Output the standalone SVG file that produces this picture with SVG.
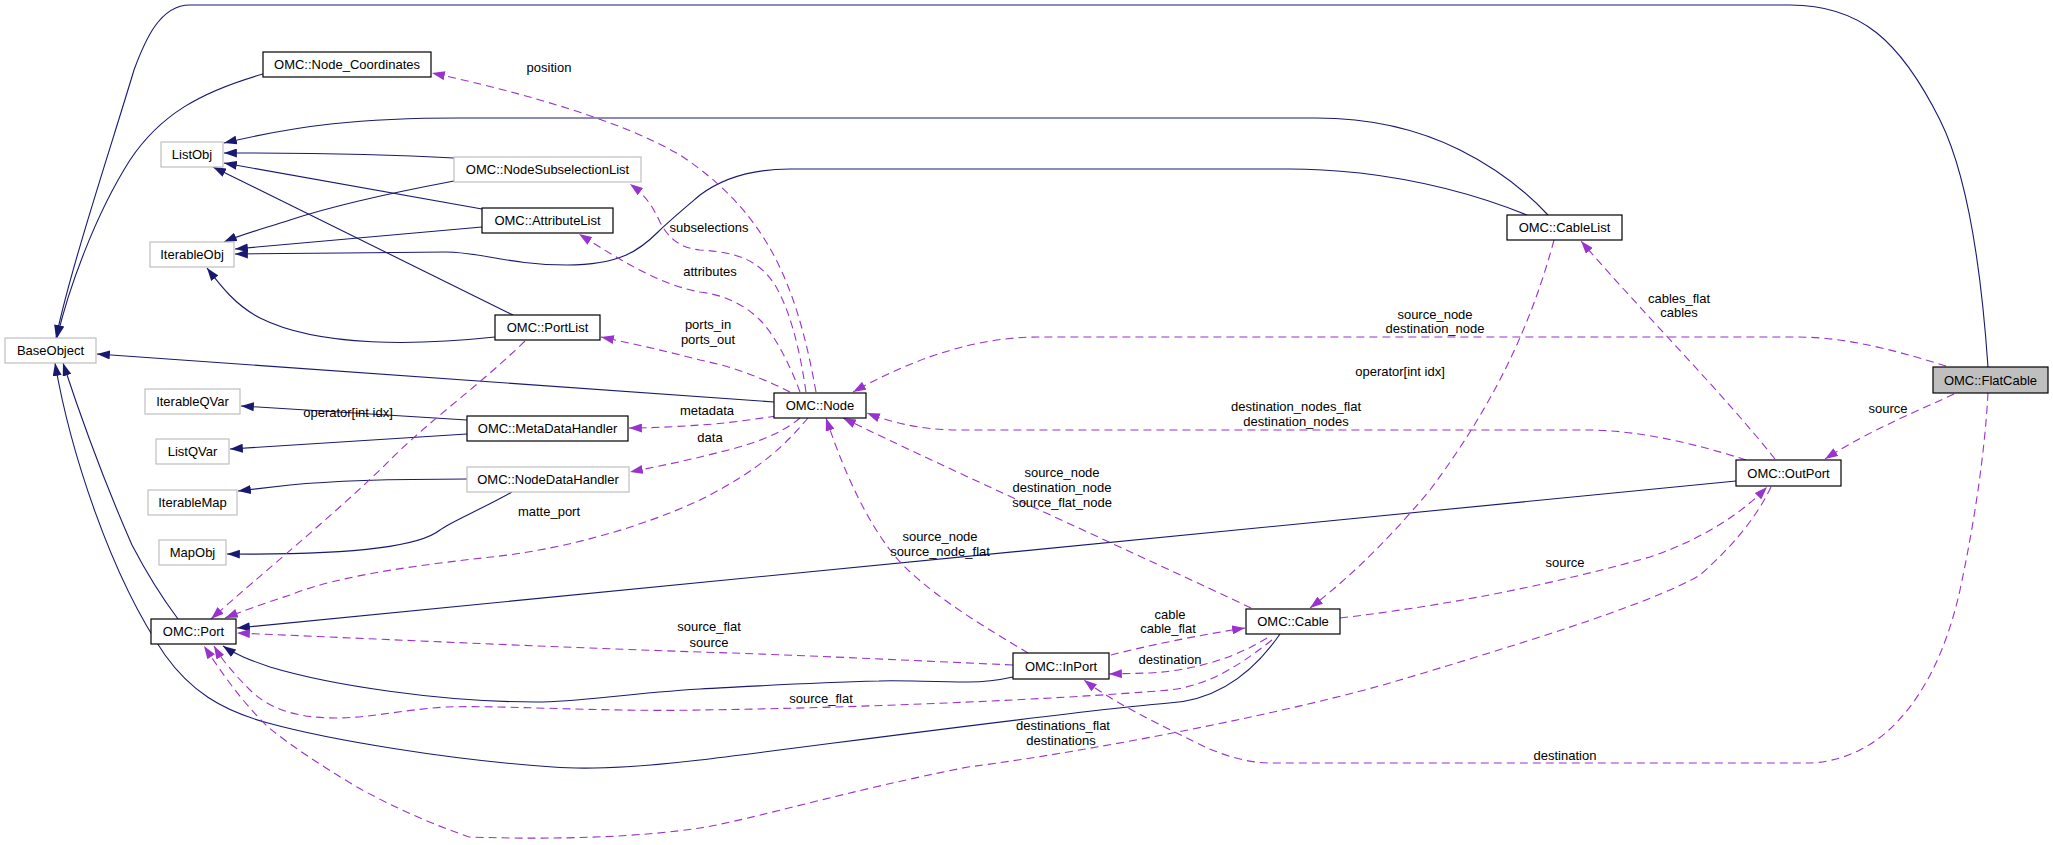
<svg xmlns="http://www.w3.org/2000/svg" width="2053" height="845" viewBox="0 0 2053 845">
<style>
.bg{fill:#fff}
.n rect{fill:#fff;stroke:#000;stroke-width:1.2}
.n.u rect{stroke:#bfbfbf}
.n.h rect{fill:#bfbfbf}
text{font-family:"Liberation Sans",Arial,sans-serif;font-size:13px;fill:#000}
.n text{text-anchor:middle}
.lb{text-anchor:middle}
.inh{fill:none;stroke:#191970;stroke-width:1.1;marker-end:url(#an)}
.use{fill:none;stroke:#9a32cd;stroke-width:1.1;stroke-dasharray:8,5;marker-end:url(#ap)}
</style>
<defs>
<marker id="an" viewBox="0 0 10 7" refX="10" refY="3.5" markerWidth="13" markerHeight="9" markerUnits="userSpaceOnUse" orient="auto"><path d="M0,0 L10,3.5 L0,7 z" fill="#191970"/></marker>
<marker id="ap" viewBox="0 0 10 7" refX="10" refY="3.5" markerWidth="13" markerHeight="9" markerUnits="userSpaceOnUse" orient="auto"><path d="M0,0 L10,3.5 L0,7 z" fill="#9a32cd"/></marker>
</defs>
<rect class="bg" x="0" y="0" width="2053" height="845"/>
<g id="connectors">
<path class="inh" d="M1988,367 C1982,280 1970,180 1940,120 C1900,40 1860,5 1790,5 L190,5 C160,5 145,40 134,70 C110,150 70,270 56,338"/>
<path class="inh" d="M263,74 C200,92 160,115 130,160 C95,215 68,290 57,338"/>
<path class="inh" d="M1548,215 C1520,185 1490,165 1460,150 C1420,130 1370,118 1316,118 L460,118 C360,118 300,125 224,143"/>
<path class="inh" d="M1527,215 C1480,196 1420,180 1360,173 C1330,170 1310,169 1290,169 L790,169 C750,169 720,180 700,195 C680,212 668,222 658,232 C640,250 620,265 567,265 C510,265 480,252 446,252 C380,252 300,254 235,254"/>
<path class="inh" d="M454,158 C400,155 300,153 224,153"/>
<path class="inh" d="M454,181 C380,195 320,210 290,220 C262,229 240,235 224,242"/>
<path class="inh" d="M482,209 L224,163"/>
<path class="inh" d="M482,227 L235,249"/>
<path class="inh" d="M513,315 L213,167"/>
<path class="inh" d="M495,337 C420,345 320,348 260,318 C235,305 220,285 207,268"/>
<path class="inh" d="M774,402 L97,354"/>
<path class="inh" d="M467,420 L241,406"/>
<path class="inh" d="M467,434 L230,449"/>
<path class="inh" d="M467,479 C400,479 330,481 290,485 L238,491"/>
<path class="inh" d="M512,492 C480,510 450,522 440,530 C415,550 330,555 227,554"/>
<path class="inh" d="M178,619 C160,595 145,570 132,545 C110,495 85,430 63,363"/>
<path class="inh" d="M1280,634 C1255,670 1220,700 1169,703 C1080,710 800,748 700,760 C640,767 590,770 553,767 C450,760 330,740 268,723 C220,710 190,690 165,655 C110,575 70,450 55,363"/>
<path class="inh" d="M1736,481 L237,628"/>
<path class="inh" d="M1013,677 C995,681 985,682 968,682 C930,682 900,680 879,681 C800,683 740,687 700,689 C620,694 580,702 536,702 C440,702 330,685 270,667 C250,660 236,655 223,646"/>
<path class="use" d="M816,392 C805,330 790,280 765,240 C740,200 710,175 680,155 C620,120 520,92 432,73"/>
<path class="use" d="M806,392 C800,350 790,310 775,285 C760,262 740,252 700,250 C680,248 668,238 660,222 C652,205 645,195 630,184"/>
<path class="use" d="M800,392 C790,365 775,335 760,320 C745,305 725,295 700,292 C660,285 620,260 579,234"/>
<path class="use" d="M790,392 C770,382 740,368 700,360 C670,352 630,343 601,337"/>
<path class="use" d="M776,416 C750,420 720,424 700,425 C670,427 650,428 629,428"/>
<path class="use" d="M800,418 C780,435 750,445 720,452 C690,460 660,466 630,472"/>
<path class="use" d="M808,418 C785,445 760,470 700,500 C640,528 560,550 491,557 C420,565 340,575 290,595 C265,603 240,612 225,618"/>
<path class="use" d="M525,341 C480,385 430,420 390,460 C340,510 260,575 211,619"/>
<path class="use" d="M1554,240 C1530,330 1490,410 1430,490 C1380,550 1340,585 1310,608"/>
<path class="use" d="M1775,459 C1720,390 1640,310 1581,241"/>
<path class="use" d="M1946,366 C1900,352 1850,337 1796,337 L1039,337 C980,337 920,355 853,392"/>
<path class="use" d="M1746,460 C1700,445 1640,430 1587,430 L960,430 C920,430 890,422 867,413"/>
<path class="use" d="M1251,608 C1150,560 950,470 843,418"/>
<path class="use" d="M1028,653 C990,630 920,590 890,550 C860,510 840,460 826,418"/>
<path class="use" d="M1013,665 C900,660 800,655 700,652 C550,647 400,640 237,633"/>
<path class="use" d="M1111,655 C1150,645 1200,635 1245,628"/>
<path class="use" d="M1267,638 C1240,655 1200,670 1150,673 L1109,674"/>
<path class="use" d="M1272,640 C1240,665 1210,685 1170,690 C1050,700 850,708 700,710 C600,712 500,705 446,707 C400,710 370,718 335,718 C300,718 270,710 250,690 C235,675 222,660 214,646"/>
<path class="use" d="M1340,618 C1450,605 1550,585 1650,557 C1700,540 1740,515 1767,487"/>
<path class="use" d="M1954,394 C1920,410 1870,430 1825,459"/>
<path class="use" d="M1771,487 C1760,510 1740,540 1700,575 C1650,605 1500,650 1400,680 C1300,710 1100,750 968,767 C850,790 750,820 700,828 C640,837 560,840 469,837 C420,820 380,800 357,787 C320,765 290,745 268,727 C240,700 220,670 204,646"/>
<path class="use" d="M1988,393 C1985,450 1975,520 1960,590 C1940,680 1900,730 1860,750 C1840,760 1820,763 1808,763 L1271,763 C1240,763 1210,750 1191,740 C1150,720 1110,700 1084,680"/>
<text class="lb" x="549" y="72">position</text>
<text class="lb" x="709" y="232">subselections</text>
<text class="lb" x="710" y="276">attributes</text>
<text class="lb" x="708" y="329">ports_in</text>
<text class="lb" x="708" y="344">ports_out</text>
<text class="lb" x="707" y="415">metadata</text>
<text class="lb" x="710" y="442">data</text>
<text class="lb" x="549" y="516">matte_port</text>
<text class="lb" x="348" y="417">operator[int idx]</text>
<text class="lb" x="1400" y="376">operator[int idx]</text>
<text class="lb" x="1679" y="303">cables_flat</text>
<text class="lb" x="1679" y="317">cables</text>
<text class="lb" x="1435" y="319">source_node</text>
<text class="lb" x="1435" y="333">destination_node</text>
<text class="lb" x="1296" y="411">destination_nodes_flat</text>
<text class="lb" x="1296" y="426">destination_nodes</text>
<text class="lb" x="1062" y="477">source_node</text>
<text class="lb" x="1062" y="492">destination_node</text>
<text class="lb" x="1062" y="507">source_flat_node</text>
<text class="lb" x="940" y="541">source_node</text>
<text class="lb" x="940" y="556">source_node_flat</text>
<text class="lb" x="709" y="631">source_flat</text>
<text class="lb" x="709" y="647">source</text>
<text class="lb" x="1170" y="619">cable</text>
<text class="lb" x="1168" y="633">cable_flat</text>
<text class="lb" x="1170" y="664">destination</text>
<text class="lb" x="821" y="703">source_flat</text>
<text class="lb" x="1565" y="567">source</text>
<text class="lb" x="1888" y="413">source</text>
<text class="lb" x="1063" y="730">destinations_flat</text>
<text class="lb" x="1061" y="745">destinations</text>
<text class="lb" x="1565" y="760">destination</text>
</g>
<g id="BaseObject" class="n u"><rect x="5" y="338" width="91" height="25"/><text x="50.5" y="355">BaseObject</text></g>
<g id="Node_Coordinates" class="n"><rect x="263" y="52" width="168" height="25"/><text x="347" y="69">OMC::Node_Coordinates</text></g>
<g id="ListObj" class="n u"><rect x="161" y="142" width="62" height="25"/><text x="192" y="159">ListObj</text></g>
<g id="NodeSubselectionList" class="n u"><rect x="454" y="157" width="187" height="25"/><text x="547.5" y="174">OMC::NodeSubselectionList</text></g>
<g id="AttributeList" class="n"><rect x="482" y="208" width="131" height="25"/><text x="547.5" y="225">OMC::AttributeList</text></g>
<g id="IterableObj" class="n u"><rect x="150" y="242" width="84" height="25"/><text x="192" y="259">IterableObj</text></g>
<g id="PortList" class="n"><rect x="495" y="315" width="105" height="25"/><text x="547.5" y="332">OMC::PortList</text></g>
<g id="IterableQVar" class="n u"><rect x="145" y="389" width="95" height="25"/><text x="192.5" y="406">IterableQVar</text></g>
<g id="MetaDataHandler" class="n"><rect x="467" y="416" width="161" height="25"/><text x="547.5" y="433">OMC::MetaDataHandler</text></g>
<g id="ListQVar" class="n u"><rect x="156" y="439" width="73" height="25"/><text x="192.5" y="456">ListQVar</text></g>
<g id="NodeDataHandler" class="n u"><rect x="467" y="467" width="162" height="25"/><text x="548" y="484">OMC::NodeDataHandler</text></g>
<g id="IterableMap" class="n u"><rect x="148" y="490" width="89" height="25"/><text x="192.5" y="507">IterableMap</text></g>
<g id="MapObj" class="n u"><rect x="159" y="540" width="67" height="25"/><text x="192.5" y="557">MapObj</text></g>
<g id="Port" class="n"><rect x="151" y="619" width="85" height="25"/><text x="193.5" y="636">OMC::Port</text></g>
<g id="Node" class="n"><rect x="774" y="393" width="92" height="25"/><text x="820" y="410">OMC::Node</text></g>
<g id="CableList" class="n"><rect x="1507" y="215" width="115" height="25"/><text x="1564.5" y="232">OMC::CableList</text></g>
<g id="FlatCable" class="n h"><rect x="1933" y="367" width="115" height="26"/><text x="1990.5" y="385">OMC::FlatCable</text></g>
<g id="OutPort" class="n"><rect x="1736" y="460" width="105" height="26"/><text x="1788.5" y="478">OMC::OutPort</text></g>
<g id="Cable" class="n"><rect x="1246" y="609" width="94" height="25"/><text x="1293" y="626">OMC::Cable</text></g>
<g id="InPort" class="n"><rect x="1013" y="653" width="96" height="26"/><text x="1061" y="671">OMC::InPort</text></g>
</svg>
